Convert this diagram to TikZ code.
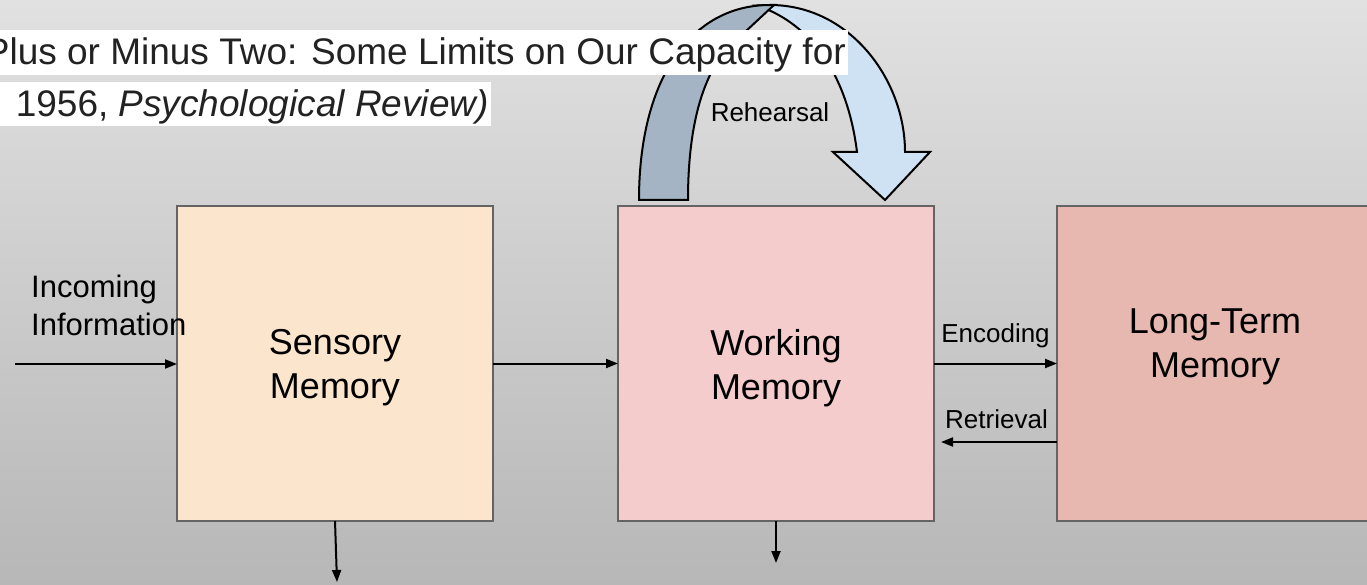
\documentclass[tikz,border=0pt]{standalone}
\usepackage{fontspec}
\setmainfont{Liberation Sans}
\usetikzlibrary{arrows.meta}

\definecolor{bgtop}{RGB}{225,225,225}
\definecolor{bgbot}{RGB}{183,183,183}
\definecolor{sensoryfill}{RGB}{252,229,205}
\definecolor{workingfill}{RGB}{244,204,204}
\definecolor{longfill}{RGB}{230,184,175}
\definecolor{boxline}{RGB}{100,100,100}
\definecolor{loopback}{RGB}{164,180,196}
\definecolor{loopfront}{RGB}{207,226,243}
\definecolor{titleink}{RGB}{34,34,34}

\begin{document}
\begin{tikzpicture}[x=1pt,y=-1pt,
  memorybox/.style={draw=boxline, line width=2pt, minimum width=316pt,
    minimum height=315pt, inner sep=0pt, outer sep=0pt},
  boxtext/.style={inner sep=0pt, align=center, font=\fontsize{36}{44}\selectfont},
  smalltext/.style={inner sep=0pt, font=\fontsize{26}{31}\selectfont},
  flow/.style={line width=2pt, -{Triangle[length=12pt,width=9pt]}},
  loopline/.style={draw=black, line width=2pt, line join=miter},
  citetext/.style={inner sep=0pt, anchor=base east, text=titleink,
    font=\fontsize{37}{44}\selectfont}]

% canvas and gradient background
\clip (0,0) rectangle (1367,585);
\shade[top color=bgtop, bottom color=bgbot] (0,0) rectangle (1367,585);

% memory stores
\node[memorybox, fill=sensoryfill] (sm) at (335,363.5) {};
\node[memorybox, fill=workingfill] (wm) at (776,363.5) {};
\node[memorybox, fill=longfill]    (ltm) at (1215,363.5) {};

\node[boxtext] (smt)  at (335,368) {Sensory\\Memory};
\node[boxtext] (wmt)  at (776,368) {Working\\Memory};
\node[boxtext] (ltmt) at (1215,347) {Long-Term\\Memory};

% rehearsal loop: front face ending in the arrow head
\path[loopline, fill=loopfront]
  (757,5.5) -- (770,5) .. controls (850,5) and (905,80) .. (905,152)
  -- (930,152) -- (885,200) -- (833,152) -- (857,152)
  .. controls (848,80) and (815,25) .. (757,5.5) -- cycle;
% rehearsal loop: back face of the rising leg
\path[loopline, fill=loopback]
  (639,200) .. controls (639,80) and (690,5) .. (770,5) -- (774,5)
  -- (745,32) .. controls (705,60) and (688,120) .. (688,200) -- cycle;
\node[smalltext, anchor=base] (reh) at (770,122) {Rehearsal};

% citation strip along the top
\fill[white] (0,30) rectangle (848,75);
\fill[white] (0,82) rectangle (491,126);
\node[citetext] (cite1) at (846,65)
  {Plus or Minus Two: Some Limits on Our Capacity for};
\node[citetext] (cite2) at (489,117)
  {1956, \textit{Psychological Review)}};

% incoming information
\node[inner sep=0pt, anchor=west, align=left,
  font=\fontsize{31}{38}\selectfont] (inc) at (31,305) {Incoming\\Information};
\coordinate (src) at (15,364);
\draw[flow] (src) -- (sm.west |- src);

% transfers between stores
\draw[flow] (sm.east) -- (wm.west);
\draw[flow] (wm.east) -- (ltm.west);
\node[smalltext, anchor=base] (enc) at (995.5,342) {Encoding};
\coordinate (retend) at (941,442);
\draw[flow] (ltm.west |- retend) -- (retend);
\node[smalltext, anchor=base] (ret) at (996.5,428) {Retrieval};

% losses out of the stores
\coordinate (smlost) at (337,582);
\draw[flow] (sm.south -| 335,0) -- (smlost);
\coordinate (wmlost) at (776,563);
\draw[flow] (wm.south) -- (wmlost);
\end{tikzpicture}
\end{document}
